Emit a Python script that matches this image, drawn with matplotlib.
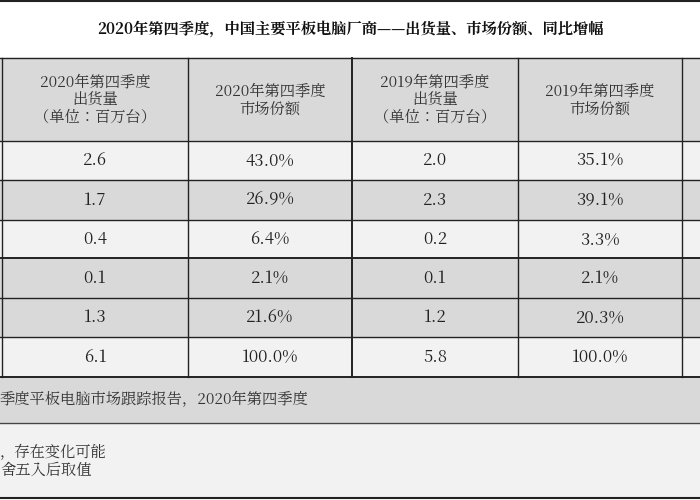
import matplotlib.pyplot as plt
from matplotlib import font_manager
from matplotlib.patches import Rectangle

# find an installed CJK font by file, the family name lookup did not work
cjk = [f for f in font_manager.findSystemFonts() if 'CJK' in f or 'cjk' in f.lower()]
sc = [f for f in cjk if 'SC' in f] or cjk
if sc:
    font_manager.fontManager.addfont(sc[0])
    name = font_manager.FontProperties(fname=sc[0]).get_name()
    plt.rcParams['font.family'] = [name, 'DejaVu Sans']

title = '2020年第四季度，中国主要平板电脑厂商——出货量、市场份额、同比增幅'
headers = ['2020年第四季度\n出货量\n（单位：百万台）', '2020年第四季度\n市场份额',
           '2019年第四季度\n出货量\n（单位：百万台）', '2019年第四季度\n市场份额']
ship_2020 = ['2.6', '1.7', '0.4', '0.1', '1.3', '6.1']
share_2020 = ['43.0%', '26.9%', '6.4%', '2.1%', '21.6%', '100.0%']
ship_2019 = ['2.0', '2.3', '0.2', '0.1', '1.2', '5.8']
share_2019 = ['35.1%', '39.1%', '3.3%', '2.1%', '20.3%', '100.0%']
source = '季度平板电脑市场跟踪报告，2020年第四季度'
notes = '，存在变化可能\n舍五入后取值'

light = '#f2f2f2'
gray = '#d9d9d9'
col_x = [2, 188, 352, 518, 682]
row_y = [141, 180, 220, 258, 298, 337, 377]
row_bg = [light, gray, light, gray, gray, light]

fig = plt.figure(figsize=(7, 5), dpi=100)
ax = fig.add_axes([0, 0, 1, 1])
ax.set_xlim(0, 700)
ax.set_ylim(500, 0)
ax.axis('off')

ax.add_patch(Rectangle((0, 0), 700, 58, color='white'))
ax.text(350, 29, title, ha='center', va='center', fontsize=11, fontweight='bold', color='#111111')
ax.plot([0, 700], [1, 1], color='#222222', lw=1.5)

ax.add_patch(Rectangle((0, 58), 700, 83, color=gray))
for i in range(6):
    ax.add_patch(Rectangle((0, row_y[i]), 700, row_y[i + 1] - row_y[i], color=row_bg[i]))
ax.add_patch(Rectangle((0, 377), 700, 46, color=gray))
ax.add_patch(Rectangle((0, 423), 700, 75, color=light))

for c, h in enumerate(headers):
    ax.text((col_x[c] + col_x[c + 1]) / 2, 100, h, ha='center', va='center',
            fontsize=11, color='#333333', linespacing=1.1)

for c, col in enumerate([ship_2020, share_2020, ship_2019, share_2019]):
    for r, v in enumerate(col):
        ax.text((col_x[c] + col_x[c + 1]) / 2, (row_y[r] + row_y[r + 1]) / 2, v,
                ha='center', va='center', fontsize=12, color='#222222')

for y in [58] + row_y:
    ax.plot([0, 700], [y, y], color='#222222', lw=1.4 if y in (258, 377) else 1)
for x in col_x:
    ax.plot([x, x], [58, 377], color='#222222', lw=1.4 if x == 352 else 1)
ax.plot([0, 700], [423, 423], color='#444444', lw=1)
ax.plot([0, 700], [498, 498], color='#222222', lw=1.5)

ax.text(0, 400, source, ha='left', va='center', fontsize=11, color='#333333')
ax.text(0, 462, notes, ha='left', va='center', fontsize=11, color='#333333', linespacing=1.1)

fig.savefig('out.png')
